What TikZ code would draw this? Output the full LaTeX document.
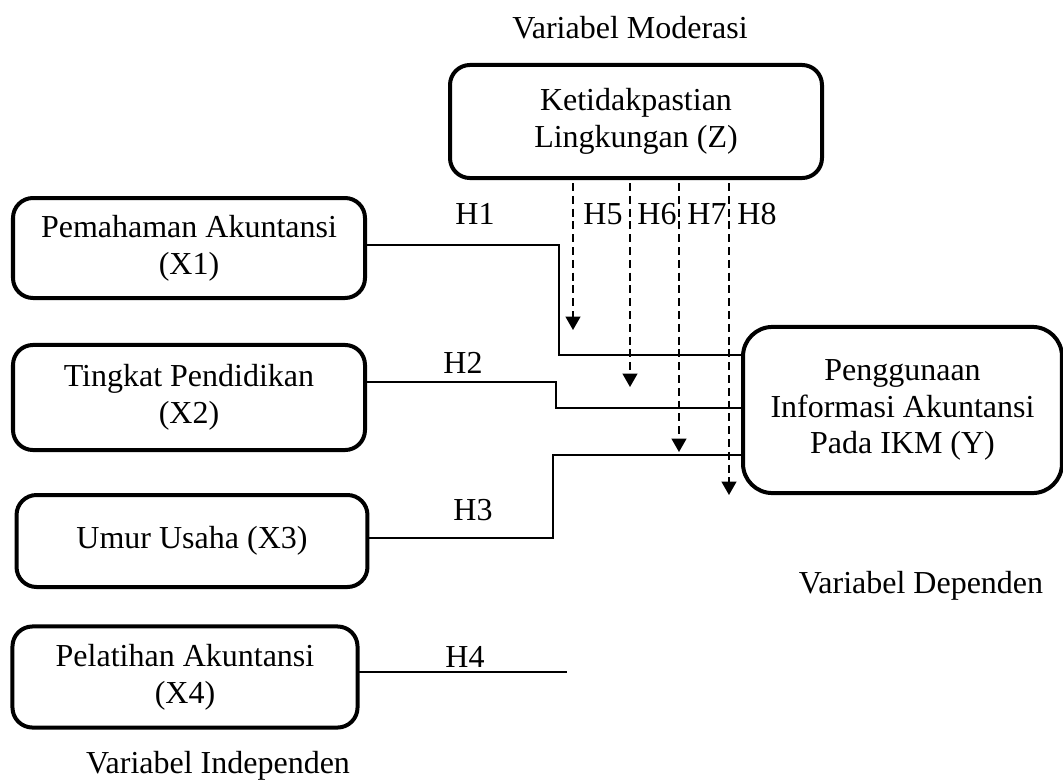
\documentclass[tikz,border=0pt]{standalone}
\usepackage{fontspec}
\setmainfont{Liberation Serif}
\usetikzlibrary{arrows.meta}

\begin{document}
\begin{tikzpicture}[x=0.375pt, y=-0.375pt,
    font=\fontsize{12}{13.8}\selectfont,
    varbox/.style={draw, line width=1.5pt, rounded corners=7.5pt, align=center,
        inner sep=0pt, outer sep=0pt},
    link/.style={line width=0.6pt},
    moderate/.style={line width=0.75pt, dash pattern=on 3pt off 1.8pt,
        -{Triangle[width=5.5pt,length=5pt]}}]

    % Fix the page size
    \useasboundingbox (0,0) rectangle (1063,783);

    % Moderating variable
    \node[anchor=base] (capZ) at (630,38) {Variabel Moderasi};
    \node[varbox, minimum width=139.5pt, minimum height=42.4pt] (Z) at (636,121.5)
        {Ketidakpastian\\Lingkungan (Z)};

    % Independent variables
    \node[varbox, minimum width=132pt, minimum height=37.5pt] (X1) at (189,248)
        {Pemahaman Akuntansi\\(X1)};
    \node[varbox, minimum width=132pt, minimum height=39.4pt] (X2) at (189,397.5)
        {Tingkat Pendidikan\\(X2)};
    \node[varbox, minimum width=131.6pt, minimum height=34.5pt] (X3) at (192,541)
        {Umur Usaha (X3)};
    \node[varbox, minimum width=129.4pt, minimum height=37.9pt] (X4) at (185,677)
        {Pelatihan Akuntansi\\(X4)};
    \node[anchor=base] (capX) at (218,773) {Variabel Independen};

    % Dependent variable
    \node[varbox, rounded corners=11pt, minimum width=119.6pt, minimum height=62.3pt]
        (Y) at (902.5,410) {Penggunaan\\Informasi Akuntansi\\Pada IKM (Y)};
    \node[anchor=base] (capY) at (921,593) {Variabel Dependen};

    % Direct paths
    \draw[link] (X1.east |- 0,245) -- (559,245) -- (559,355) -- (Y.west |- 0,355);
    \draw[link] (X2.east |- 0,382) -- (556,382) -- (556,408) -- (Y.west |- 0,408);
    \draw[link] (X3.east |- 0,538) -- (553,538) -- (553,455) -- (Y.west |- 0,455);
    \coordinate (h4end) at (567,672);
    \draw[link] (X4.east |- h4end) -- (h4end);

    % Moderating paths
    \draw[moderate] (573,183) -- (573,330);
    \draw[moderate] (630,183) -- (630,387);
    \draw[moderate] (679,183) -- (679,452);
    \draw[moderate] (729,183) -- (729,495);

    % Hypothesis labels
    \node (H1) at (475,214) {H1};
    \node (H2) at (463,363) {H2};
    \node (H3) at (473,510) {H3};
    \node (H4) at (465,657) {H4};
    \node (H5) at (603,214) {H5};
    \node (H6) at (657,214) {H6};
    \node (H7) at (707,214) {H7};
    \node (H8) at (757,214) {H8};

\end{tikzpicture}
\end{document}
